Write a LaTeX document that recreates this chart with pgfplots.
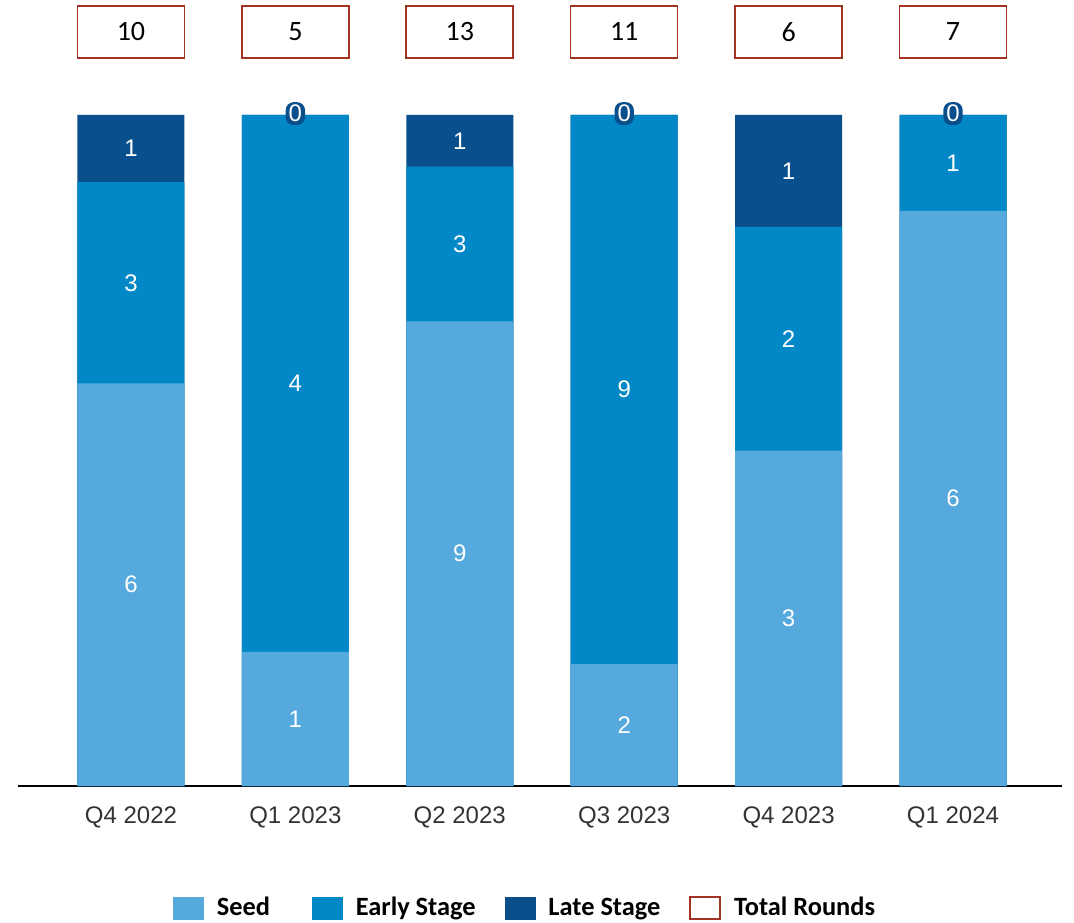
\documentclass[border=0pt]{standalone}
\usepackage{pgfplots}
\pgfplotsset{compat=1.18}
\usepackage{fontspec}
\setmainfont{Liberation Sans}
\newfontfamily\carlito{Carlito}

\definecolor{seedc}{HTML}{56A9DC}
\definecolor{earlyc}{HTML}{0288C7}
\definecolor{latec}{HTML}{094F8B}
\definecolor{boxred}{HTML}{A33222}
\definecolor{ticktext}{HTML}{333333}

\begin{document}
\begin{tikzpicture}
\path[use as bounding box] (0,0) rectangle (537pt,461pt);
\begin{axis}[
  at={(9pt,68pt)}, anchor=south west,
  scale only axis, width=522pt, height=335.5pt,
  xmin=-0.687, xmax=5.663, ymin=0, ymax=100,
  clip=false,
  axis x line*=bottom, hide y axis,
  axis line style={line width=1pt, black},
  xtick={0,...,5}, major tick length=0pt,
  xticklabels={Q4 2022, Q1 2023, Q2 2023, Q3 2023, Q4 2023, Q1 2024},
  xticklabel style={font=\fontsize{12}{14}\selectfont, text=ticktext, yshift=-7pt},
  legend columns=4,
  legend style={at={(0.4866,-0.182)}, anchor=center, draw=none,
    font=\carlito\bfseries\fontsize{13.2}{15}\selectfont,
    /tikz/every odd column/.append style={column sep=4.5pt},
    /tikz/every even column/.append style={column sep=12.5pt}},
  legend image code/.code={\path[#1] (0pt,-5.5pt) rectangle (15pt,5.5pt);},
]
% cumulative shares (%), drawn back to front
\addplot[ybar, bar width=53.5pt, bar shift=0pt, fill=latec, draw=none, forget plot]
  coordinates {(0,100) (1,100) (2,100) (3,100) (4,100) (5,100)};
\addplot[ybar, bar width=53.5pt, bar shift=0pt, fill=earlyc, draw=none, forget plot]
  coordinates {(0,90) (1,100) (2,92.31) (3,100) (4,83.33) (5,100)};
\addplot[ybar, bar width=53.5pt, bar shift=0pt, fill=seedc, draw=none, forget plot]
  coordinates {(0,60) (1,20) (2,69.23) (3,18.18) (4,50) (5,85.71)};
% segment labels (counts)
\addplot[draw=none, mark=none, forget plot, nodes near coords, point meta=explicit symbolic,
  nodes near coords style={anchor=center, text=white, font=\fontsize{12}{14}\selectfont}]
  coordinates {(0,30)[6] (1,10)[1] (2,34.62)[9] (3,9.09)[2] (4,25)[3] (5,42.86)[6]
               (0,75)[3] (1,60)[4] (2,80.77)[3] (3,59.09)[9] (4,66.67)[2] (5,92.86)[1]
               (0,95)[1] (2,96.15)[1] (4,91.67)[1]};
% zero late-stage badges
\addplot[draw=none, mark=none, forget plot, nodes near coords, point meta=explicit symbolic,
  nodes near coords style={anchor=center, text=white, fill=latec, rounded corners=4pt,
    inner sep=1.5pt, font=\fontsize{12}{14}\selectfont}]
  coordinates {(1,100.2)[0] (3,100.2)[0] (5,100.2)[0]};
% total rounds
\addplot[draw=none, mark=none, forget plot, nodes near coords, point meta=explicit symbolic,
  nodes near coords style={anchor=center, text=black, draw=boxred, line width=0.8pt, fill=white,
    minimum width=53.5pt, minimum height=26pt, font=\carlito\fontsize{14}{16}\selectfont}]
  coordinates {(0,112.4)[10] (1,112.4)[5] (2,112.4)[13] (3,112.4)[11] (4,112.4)[6] (5,112.4)[7]};
\addlegendimage{fill=seedc, draw=seedc}
\addlegendentry{Seed\kern6.5pt}
\addlegendimage{fill=earlyc, draw=earlyc}
\addlegendentry{Early Stage}
\addlegendimage{fill=latec, draw=latec}
\addlegendentry{Late Stage}
\addlegendimage{fill=white, draw=boxred, line width=0.8pt}
\addlegendentry{Total Rounds}
\end{axis}
\end{tikzpicture}
\end{document}
